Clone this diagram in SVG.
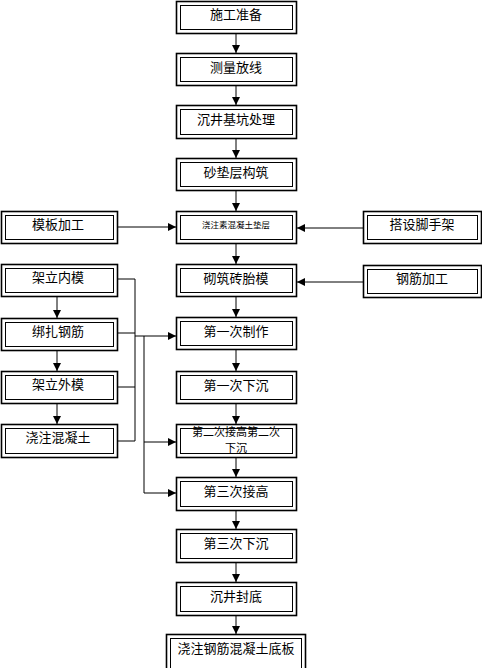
<svg xmlns="http://www.w3.org/2000/svg" width="482" height="668" viewBox="0 0 482 668">
<defs>
<marker id="ah" markerUnits="userSpaceOnUse" markerWidth="8" markerHeight="8" viewBox="0 0 8 8" refX="8" refY="4" orient="auto">
<path d="M0,0 L8,4 L0,8 Z" fill="#000"/>
</marker>
</defs>
<style>
.o{fill:#fff;stroke:#000;stroke-width:1.6}
.i{fill:none;stroke:#000;stroke-width:1}
.t{font-family:"Noto Sans CJK SC","Liberation Sans",sans-serif;font-size:13px;text-anchor:middle;fill:#000}
.c{fill:none;stroke:#000;stroke-width:1}
</style>
<rect width="482" height="668" fill="#fff"/>
<g id="connectors">
<line class="c" x1="236" y1="34" x2="236" y2="53" marker-end="url(#ah)"/>
<line class="c" x1="236" y1="86" x2="236" y2="105" marker-end="url(#ah)"/>
<line class="c" x1="236" y1="139" x2="236" y2="158" marker-end="url(#ah)"/>
<line class="c" x1="236" y1="191" x2="236" y2="211" marker-end="url(#ah)"/>
<line class="c" x1="236" y1="244" x2="236" y2="264" marker-end="url(#ah)"/>
<line class="c" x1="236" y1="297" x2="236" y2="317" marker-end="url(#ah)"/>
<line class="c" x1="236" y1="350" x2="236" y2="371" marker-end="url(#ah)"/>
<line class="c" x1="236" y1="404" x2="236" y2="424" marker-end="url(#ah)"/>
<line class="c" x1="236" y1="458" x2="236" y2="477" marker-end="url(#ah)"/>
<line class="c" x1="236" y1="511" x2="236" y2="529" marker-end="url(#ah)"/>
<line class="c" x1="236" y1="563" x2="236" y2="582" marker-end="url(#ah)"/>
<line class="c" x1="236" y1="616" x2="236" y2="634" marker-end="url(#ah)"/>
<line class="c" x1="118" y1="227" x2="176" y2="227" marker-end="url(#ah)"/>
<line class="c" x1="363" y1="228" x2="297" y2="228" marker-end="url(#ah)"/>
<line class="c" x1="363" y1="282" x2="297" y2="282" marker-end="url(#ah)"/>
<line class="c" x1="57" y1="297" x2="57" y2="318" marker-end="url(#ah)"/>
<line class="c" x1="57" y1="351" x2="57" y2="371" marker-end="url(#ah)"/>
<line class="c" x1="57" y1="404" x2="57" y2="424" marker-end="url(#ah)"/>
<polyline class="c" points="118,279 135,279 135,441 118,441"/>
<line class="c" x1="118" y1="333" x2="135" y2="333"/>
<line class="c" x1="118" y1="387" x2="135" y2="387"/>
<line class="c" x1="135" y1="336" x2="176" y2="336" marker-end="url(#ah)"/>
<polyline class="c" points="144,336 144,493 176,493" marker-end="url(#ah)"/>
<line class="c" x1="144" y1="442" x2="176" y2="442" marker-end="url(#ah)"/>
</g>
<g id="n1"><rect class="o" x="176.5" y="1.5" width="120" height="32"/><rect class="i" x="180.5" y="5.5" width="112" height="24"/><text class="t" x="236" y="19">施工准备</text></g>
<g id="n2"><rect class="o" x="176.5" y="53.5" width="120" height="32"/><rect class="i" x="180.5" y="57.5" width="112" height="24"/><text class="t" x="236" y="72">测量放线</text></g>
<g id="n3"><rect class="o" x="176.5" y="105.5" width="120" height="33"/><rect class="i" x="180.5" y="109.5" width="112" height="25"/><text class="t" x="236" y="124">沉井基坑处理</text></g>
<g id="n4"><rect class="o" x="176.5" y="158.5" width="120" height="32"/><rect class="i" x="180.5" y="162.5" width="112" height="24"/><text class="t" x="236" y="177">砂垫层构筑</text></g>
<g id="n5"><rect class="o" x="176.5" y="211.5" width="120" height="32"/><rect class="i" x="180.5" y="215.5" width="112" height="24"/><text class="t" x="236" y="228" style="font-size:8.5px">浇注素混凝土垫层</text></g>
<g id="n6"><rect class="o" x="176.5" y="264.5" width="120" height="32"/><rect class="i" x="180.5" y="268.5" width="112" height="24"/><text class="t" x="236" y="283">砌筑砖胎模</text></g>
<g id="n7"><rect class="o" x="176.5" y="317.5" width="120" height="32"/><rect class="i" x="180.5" y="321.5" width="112" height="24"/><text class="t" x="236" y="336">第一次制作</text></g>
<g id="n8"><rect class="o" x="176.5" y="371.5" width="120" height="32"/><rect class="i" x="180.5" y="375.5" width="112" height="24"/><text class="t" x="236" y="390">第一次下沉</text></g>
<g id="n9"><rect class="o" x="176.5" y="424.5" width="120" height="33"/><rect class="i" x="180.5" y="428.5" width="112" height="25"/><text class="t" x="236" y="436" style="font-size:11px">第二次接高第二次</text><text class="t" x="236" y="452" style="font-size:11px">下沉</text></g>
<g id="n10"><rect class="o" x="176.5" y="477.5" width="120" height="33"/><rect class="i" x="180.5" y="481.5" width="112" height="25"/><text class="t" x="236" y="496">第三次接高</text></g>
<g id="n11"><rect class="o" x="176.5" y="529.5" width="120" height="33"/><rect class="i" x="180.5" y="533.5" width="112" height="25"/><text class="t" x="236" y="548">第三次下沉</text></g>
<g id="n12"><rect class="o" x="176.5" y="582.5" width="120" height="33"/><rect class="i" x="180.5" y="586.5" width="112" height="25"/><text class="t" x="236" y="601">沉井封底</text></g>
<g id="n13"><rect class="o" x="166.5" y="634.5" width="139" height="40"/><rect class="i" x="170.5" y="638.5" width="131" height="32"/><text class="t" x="236" y="653">浇注钢筋混凝土底板</text></g>
<g id="l1"><rect class="o" x="1.5" y="211.5" width="116" height="32"/><rect class="i" x="5.5" y="215.5" width="108" height="24"/><text class="t" x="58" y="229">模板加工</text></g>
<g id="l2"><rect class="o" x="1.5" y="264.5" width="116" height="32"/><rect class="i" x="5.5" y="268.5" width="108" height="24"/><text class="t" x="58" y="282">架立内模</text></g>
<g id="l3"><rect class="o" x="1.5" y="318.5" width="116" height="32"/><rect class="i" x="5.5" y="322.5" width="108" height="24"/><text class="t" x="58" y="336">绑扎钢筋</text></g>
<g id="l4"><rect class="o" x="1.5" y="371.5" width="116" height="32"/><rect class="i" x="5.5" y="375.5" width="108" height="24"/><text class="t" x="58" y="389">架立外模</text></g>
<g id="l5"><rect class="o" x="1.5" y="424.5" width="116" height="33"/><rect class="i" x="5.5" y="428.5" width="108" height="25"/><text class="t" x="58" y="442">浇注混凝土</text></g>
<g id="r1"><rect class="o" x="363.5" y="211.5" width="118" height="32"/><rect class="i" x="367.5" y="215.5" width="110" height="24"/><text class="t" x="422" y="229">搭设脚手架</text></g>
<g id="r2"><rect class="o" x="363.5" y="265.5" width="118" height="32"/><rect class="i" x="367.5" y="269.5" width="110" height="24"/><text class="t" x="422" y="283">钢筋加工</text></g>
</svg>
